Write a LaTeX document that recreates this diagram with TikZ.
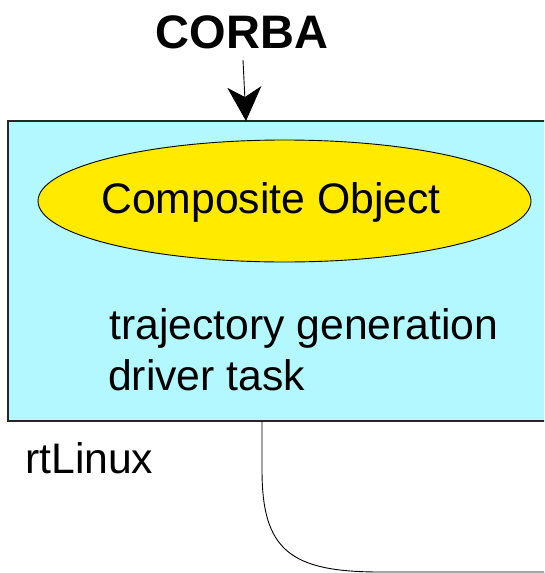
\documentclass[tikz,border=0pt]{standalone}
\usepackage{fontspec}
\setmainfont{Liberation Sans}
\usetikzlibrary{arrows.meta}
\definecolor{taskcyan}{RGB}{179,248,255}
\definecolor{objyellow}{RGB}{255,234,0}
\tikzset{
  label42/.style={inner sep=0pt, font=\fontsize{42.7}{48}\selectfont},
  taskbox/.style={fill=taskcyan, draw=black!85, line width=1.2pt},
  objellipse/.style={fill=objyellow, draw=black, line width=0.9pt},
  wire/.style={draw=black, line width=0.9pt},
}
\begin{document}
\begin{tikzpicture}[x=1pt, y=-1pt]
  \clip (0,0) rectangle (544,573);
  \fill[white] (0,0) rectangle (544,573);

  % task box running on rtLinux
  \path[taskbox] (8,121) rectangle (550,421);
  \coordinate (entry) at (246,121);
  \coordinate (exitpt) at (262,421);

  % composite object
  \path[objellipse] (284.5,201) ellipse [x radius=246.5, y radius=61];
  \node[label42, anchor=base west] (comp) at (101,213) {Composite Object};

  % task contents
  \node[label42, anchor=base west] (traj) at (109,339) {trajectory generation};
  \node[label42, anchor=base west] (drv) at (108,390) {driver task};

  % rtLinux label
  \node[label42, anchor=base west] (rtl) at (25,473) {rtLinux};

  % CORBA entry arrow
  \node[inner sep=0pt, font=\fontsize{47}{52}\selectfont\bfseries, anchor=base] (corba) at (242,48) {CORBA};
  \coordinate (arrtop) at (243,60);
  \draw[wire, -{Stealth[length=34pt, width=34pt, inset=10pt]}] (arrtop) -- (entry);

  % outgoing connection
  \coordinate (farend) at (560,572);
  \draw[wire] (exitpt) -- (262,470) .. controls (262,550) and (290,572) .. (380,572) -- (farend);
\end{tikzpicture}
\end{document}
